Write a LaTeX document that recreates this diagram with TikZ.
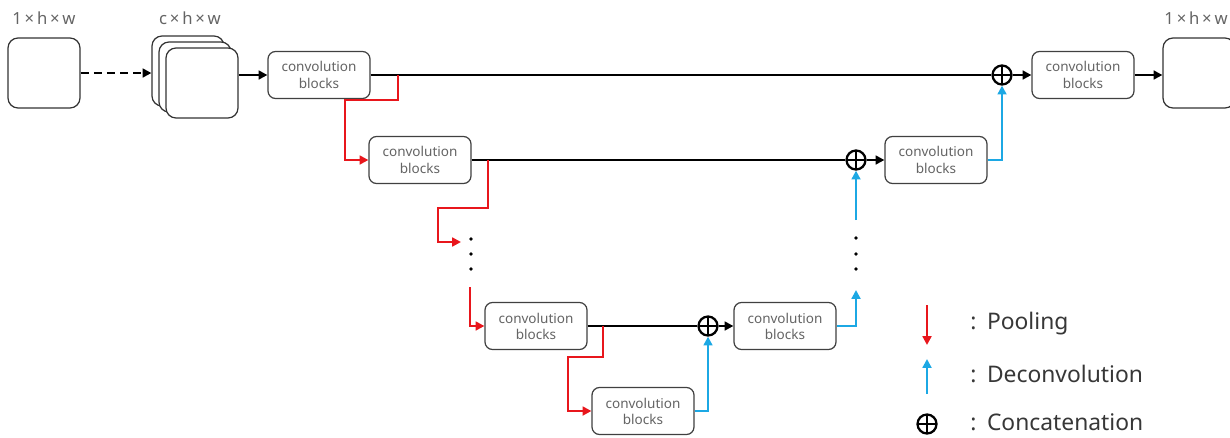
\documentclass[tikz,border=0pt]{standalone}
\usepackage{fontspec}
\setmainfont{Noto Sans}
\usetikzlibrary{arrows.meta,calc}
\definecolor{poolred}{RGB}{232,22,28}
\definecolor{deconvblue}{RGB}{28,168,228}
\definecolor{txtgray}{RGB}{100,100,100}
\definecolor{legtxt}{RGB}{55,55,55}
\begin{document}
\begin{tikzpicture}[x=0.02cm,y=-0.02cm,
 conv/.style={draw=black!75, line width=0.7pt, rounded corners=0.15cm, minimum width=2.04cm, minimum height=0.94cm, align=center, font=\fontsize{7.7}{9.2}\selectfont, text=txtgray, fill=white, inner sep=0pt},
 img/.style={draw=black!80, line width=0.7pt, rounded corners=0.2cm, minimum width=1.44cm, minimum height=1.4cm, fill=white, inner sep=0pt},
 arr/.style={line width=1.4pt, -{Triangle[length=5pt,width=5pt]}},
 mainarr/.style={arr, black},
 mainline/.style={line width=1.4pt, black},
 pool/.style={arr, poolred},
 deconv/.style={arr, deconvblue},
 cat/.style={circle, draw, line width=1.3pt, minimum size=0.38cm, inner sep=0pt, fill=white,
   path picture={\draw[line width=1.3pt] (path picture bounding box.north) -- (path picture bounding box.south) (path picture bounding box.west) -- (path picture bounding box.east);}},
 dim/.style={font=\fontsize{9.5}{11}\selectfont, text=txtgray},
 legend/.style={font=\fontsize{13}{15}\selectfont, text=legtxt, anchor=west, inner sep=0pt},
 dotnode/.style={circle, fill=black, inner sep=0pt, minimum size=2.2pt}]

\useasboundingbox (0,0) rectangle (1230,437);
\clip (0,0) rectangle (1230,437);

% input and feature maps
\node[img] (in) at (44,73) {};
\node[dim] (inlab) at (44,18) {1\,×\,h\,×\,w};
\node[img] (f3) at (188,71) {};
\node[img] (f2) at (195,77) {};
\node[img] (f1) at (202,83) {};
\node[dim] (flab) at (190,18) {c\,×\,h\,×\,w};

% conv blocks
\node[conv] (c1) at (319,75) {convolution\\blocks};
\node[conv] (c2) at (420,160) {convolution\\blocks};
\node[conv] (c3) at (536,326) {convolution\\blocks};
\node[conv] (c4) at (643,411) {convolution\\blocks};
\node[conv] (c3r) at (785,326) {convolution\\blocks};
\node[conv] (c2r) at (936,160) {convolution\\blocks};
\node[conv] (c1r) at (1083,75) {convolution\\blocks};

% concatenations
\node[cat] (o1) at (1002,75) {};
\node[cat] (o2) at (856,160) {};
\node[cat] (o3) at (708,326) {};

% output
\node[img] (out) at (1199,73) {};
\node[dim, anchor=east, inner sep=0pt] (outlab) at (1228,18) {1\,×\,h\,×\,w};

% main path
\draw[mainarr, dash pattern=on 4.5pt off 3pt] (in.east) -- (f3.west |- in.east);
\draw[mainarr] (f1.east |- c1.west) -- (c1.west);
\draw[mainline] (c1.east) -- (o1.west);
\draw[mainarr] (o1.east) -- (c1r.west);
\draw[mainarr] (c1r.east) -- (out.west |- c1r.east);
\draw[mainline] (c2.east) -- (o2.west);
\draw[mainarr] (o2.east) -- (c2r.west);
\draw[mainline] (c3.east) -- (o3.west);
\draw[mainarr] (o3.east) -- (c3r.west);

% pooling
\coordinate (p1) at (398,75);
\draw[pool] (p1) -- (398,100) -- (345,100) |- (c2.west);
\coordinate (p2) at (488,160);
\coordinate (d1end) at (461,242);
\draw[pool] (p2) -- (488,208) -- (438,208) |- (d1end);
\node[dotnode] (da1) at (471,239) {};
\node[dotnode] (da2) at (471,254) {};
\node[dotnode] (da3) at (471,269) {};
\coordinate (p3) at (470,287);
\draw[pool] (p3) |- (c3.west);
\coordinate (p4) at (603,326);
\draw[pool] (p4) -- (603,357) -- (568,357) |- (c4.west);

% deconvolution
\draw[deconv] (c4.east) -| (o3.south);
\coordinate (u1end) at (856,290);
\draw[deconv] (c3r.east) -| (u1end);
\node[dotnode] (db1) at (856,238) {};
\node[dotnode] (db2) at (856,254) {};
\node[dotnode] (db3) at (856,269) {};
\coordinate (u2start) at (856,220);
\draw[deconv] (u2start) -- (o2.south);
\draw[deconv] (c2r.east) -| (o1.south);

% legend
\coordinate (lr1) at (927,305);
\coordinate (lr2) at (927,345);
\draw[pool] (lr1) -- (lr2);
\coordinate (lb1) at (927,394);
\coordinate (lb2) at (927,359);
\draw[deconv] (lb1) -- (lb2);
\node[cat] (lo) at (927,424) {};
\node[legend] (t1) at (970,324) {:\hspace{6pt}Pooling};
\node[legend] (t2) at (970,374) {:\hspace{6pt}Deconvolution};
\node[legend] (t3) at (970,422) {:\hspace{6pt}Concatenation};
\end{tikzpicture}
\end{document}
